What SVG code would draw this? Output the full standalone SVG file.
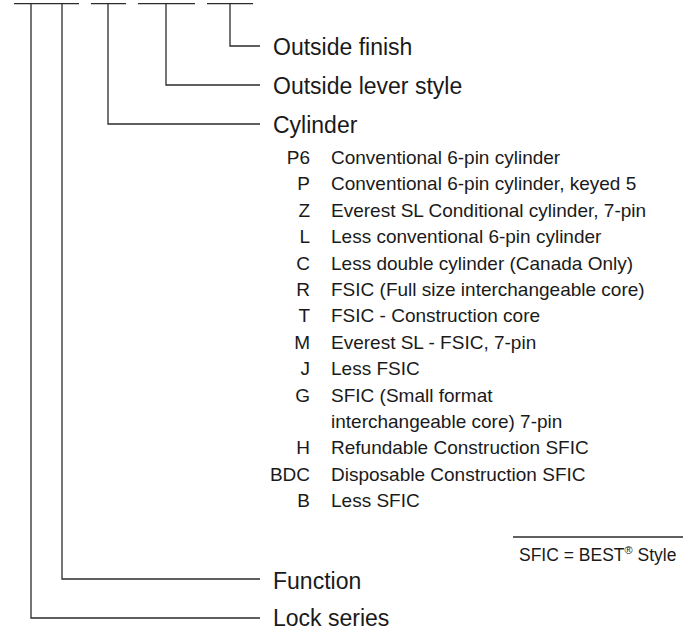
<svg xmlns="http://www.w3.org/2000/svg" width="691" height="631" viewBox="0 0 691 631">
<style>
.ln{fill:none;stroke:#2b2b2b;stroke-width:1.3}
.h{font-family:"Liberation Sans",Arial,sans-serif;font-size:23px;fill:#1a1a1a}
.t{font-family:"Liberation Sans",Arial,sans-serif;font-size:19px;fill:#1a1a1a}
.c{font-family:"Liberation Sans",Arial,sans-serif;font-size:19px;fill:#1a1a1a;text-anchor:end}
.n{font-family:"Liberation Sans",Arial,sans-serif;font-size:17.5px;fill:#1a1a1a}
</style>
<rect width="691" height="631" fill="#ffffff"/>
<g id="connectors">
<path class="ln" d="M14 3.7H79M91 3.7H126M138 3.7H195M207 3.7H253"/>
<path class="ln" d="M230 3.7V46H260"/>
<path class="ln" d="M166 3.7V85H260"/>
<path class="ln" d="M108 3.7V124H260"/>
<path class="ln" d="M62 3.7V579H260"/>
<path class="ln" d="M31 3.7V618H260"/>
</g>
<g id="outside-finish"><text class="h" x="273" y="55">Outside finish</text></g>
<g id="outside-lever-style"><text class="h" x="273" y="94">Outside lever style</text></g>
<g id="cylinder">
<text class="h" x="273" y="133">Cylinder</text>
<text class="c" x="310" y="164">P6</text><text class="t" x="331" y="164">Conventional 6-pin cylinder</text>
<text class="c" x="310" y="190.4">P</text><text class="t" x="331" y="190.4">Conventional 6-pin cylinder, keyed 5</text>
<text class="c" x="310" y="216.8">Z</text><text class="t" x="331" y="216.8">Everest SL Conditional cylinder, 7-pin</text>
<text class="c" x="310" y="243.2">L</text><text class="t" x="331" y="243.2">Less conventional 6-pin cylinder</text>
<text class="c" x="310" y="269.6">C</text><text class="t" x="331" y="269.6">Less double cylinder (Canada Only)</text>
<text class="c" x="310" y="296">R</text><text class="t" x="331" y="296">FSIC (Full size interchangeable core)</text>
<text class="c" x="310" y="322.4">T</text><text class="t" x="331" y="322.4">FSIC - Construction core</text>
<text class="c" x="310" y="348.8">M</text><text class="t" x="331" y="348.8">Everest SL - FSIC, 7-pin</text>
<text class="c" x="310" y="375.2">J</text><text class="t" x="331" y="375.2">Less FSIC</text>
<text class="c" x="310" y="401.6">G</text><text class="t" x="331" y="401.6">SFIC (Small format</text>
<text class="t" x="331" y="428">interchangeable core) 7-pin</text>
<text class="c" x="310" y="454.4">H</text><text class="t" x="331" y="454.4">Refundable Construction SFIC</text>
<text class="c" x="310" y="480.8">BDC</text><text class="t" x="331" y="480.8">Disposable Construction SFIC</text>
<text class="c" x="310" y="507.2">B</text><text class="t" x="331" y="507.2">Less SFIC</text>
</g>
<g id="note">
<path class="ln" d="M513 537H683"/>
<text class="n" x="519" y="561">SFIC = BEST<tspan font-size="11" dy="-7">®</tspan><tspan dy="7"> Style</tspan></text>
</g>
<g id="function"><text class="h" x="273" y="588.5">Function</text></g>
<g id="lock-series"><text class="h" x="273" y="625.5">Lock series</text></g>
</svg>
